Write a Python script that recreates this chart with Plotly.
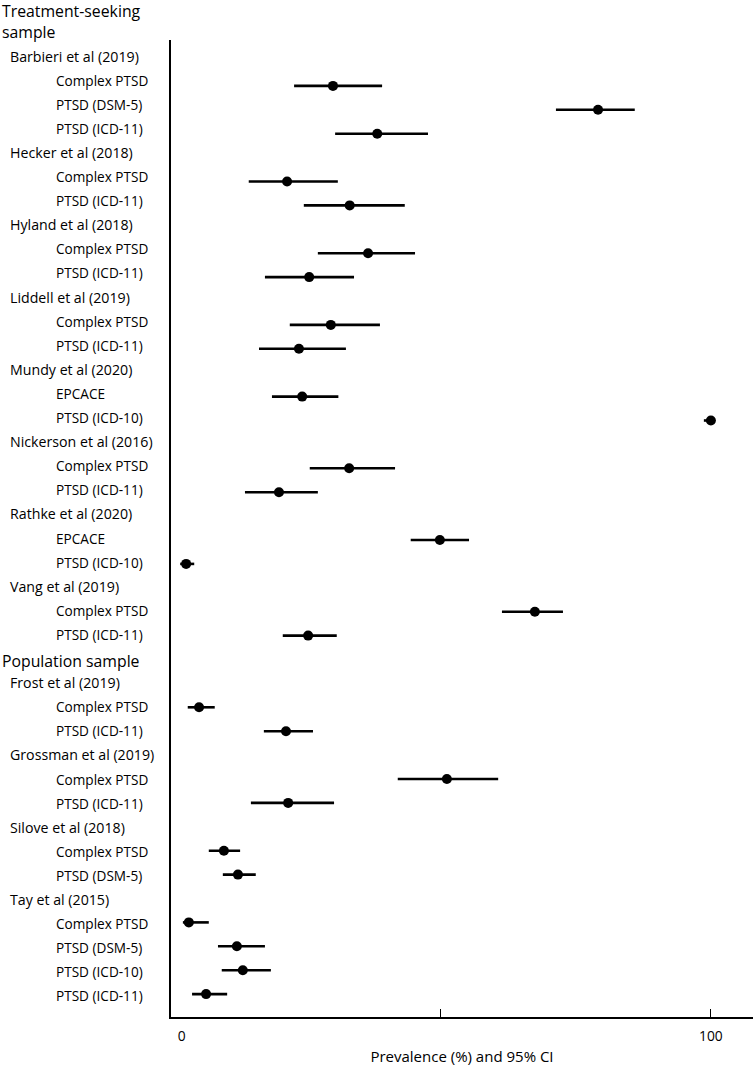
import plotly.graph_objects as go

# ---- data ----
row_labels = [
    "Barbieri et al (2019)", "Complex PTSD", "PTSD (DSM-5)", "PTSD (ICD-11)",
    "Hecker et al (2018)", "Complex PTSD", "PTSD (ICD-11)",
    "Hyland et al (2018)", "Complex PTSD", "PTSD (ICD-11)",
    "Liddell et al (2019)", "Complex PTSD", "PTSD (ICD-11)",
    "Mundy et al (2020)", "EPCACE", "PTSD (ICD-10)",
    "Nickerson et al (2016)", "Complex PTSD", "PTSD (ICD-11)",
    "Rathke et al (2020)", "EPCACE", "PTSD (ICD-10)",
    "Vang et al (2019)", "Complex PTSD", "PTSD (ICD-11)",
    "Population sample",
    "Frost et al (2019)", "Complex PTSD", "PTSD (ICD-11)",
    "Grossman et al (2019)", "Complex PTSD", "PTSD (ICD-11)",
    "Silove et al (2018)", "Complex PTSD", "PTSD (DSM-5)",
    "Tay et al (2015)", "Complex PTSD", "PTSD (DSM-5)", "PTSD (ICD-10)", "PTSD (ICD-11)",
]
# 0 = section header, 1 = study, 2 = outcome
row_levels = [
    1, 2, 2, 2,
    1, 2, 2,
    1, 2, 2,
    1, 2, 2,
    1, 2, 2,
    1, 2, 2,
    1, 2, 2,
    1, 2, 2,
    0,
    1, 2, 2,
    1, 2, 2,
    1, 2, 2,
    1, 2, 2, 2, 2,
]
prevalence = [
    None, 30.0, 79.1, 38.2,
    None, 21.5, 33.1,
    None, 36.5, 25.6,
    None, 29.6, 23.7,
    None, 24.3, 100.0,
    None, 33.0, 20.0,
    None, 49.8, 2.8,
    None, 67.4, 25.4,
    None,
    None, 5.2, 21.3,
    None, 51.1, 21.7,
    None, 9.8, 12.4,
    None, 3.3, 12.2, 13.3, 6.5,
]
ci_low = [
    None, 22.8, 71.3, 30.4,
    None, 14.4, 24.6,
    None, 27.2, 17.4,
    None, 22.0, 16.3,
    None, 18.7, 98.7,
    None, 25.7, 13.7,
    None, 44.4, 1.7,
    None, 61.3, 20.7,
    None,
    None, 3.1, 17.2,
    None, 42.0, 14.8,
    None, 7.0, 9.6,
    None, 2.2, 8.7, 9.4, 3.9,
]
ci_high = [
    None, 39.1, 85.9, 47.6,
    None, 30.9, 43.3,
    None, 45.2, 33.9,
    None, 38.7, 32.4,
    None, 31.0, 100.0,
    None, 41.5, 27.2,
    None, 55.2, 4.3,
    None, 72.6, 30.7,
    None,
    None, 8.1, 26.3,
    None, 60.6, 30.2,
    None, 12.8, 15.7,
    None, 7.0, 17.4, 18.5, 10.4,
]
top_header = "Treatment-seeking<br>sample"
x_tick_vals = [0, 50, 100]
x_tick_text = ["\u00a0\u00a0\u00a0\u00a0\u00a0\u00a00", "", "100"]
x_title = "Prevalence (%) and 95% CI"

# ---- figure ----
W, H = 753, 1071
ML, MR, MT, MB = 171, 0, 40, 54
PW = W - ML - MR

rows = list(range(len(row_labels)))
px_idx = [i for i, v in enumerate(prevalence) if v is not None]
xs = [prevalence[i] for i in px_idx]
ys = [rows[i] for i in px_idx]
err_plus = [ci_high[i] - prevalence[i] for i in px_idx]
err_minus = [prevalence[i] - ci_low[i] for i in px_idx]

FONT = "Open Sans"
TXT = "#000000"
fig = go.Figure()
fig.add_trace(go.Scatter(
    x=xs, y=ys, mode="markers",
    marker=dict(color="black", size=10),
    error_x=dict(type="data", symmetric=False, array=err_plus, arrayminus=err_minus,
                 color="black", thickness=2.6, width=0),
    hoverinfo="x+y", showlegend=False,
))

# row pixel geometry: dot rows start at 62 px with 23.9 px per row
row0_px, row_step = 62.0, 23.9
y_top = (MT - row0_px) / row_step
y_bot = (H - MB - row0_px) / row_step

indent = {0: 0, 1: 8, 2: 54}
fsize = {0: 15.8, 1: 14.2, 2: 13.6}
annotations = []
for i, (lab, lev) in enumerate(zip(row_labels, row_levels)):
    annotations.append(dict(
        text=lab, xref="paper", yref="y",
        x=(indent[lev] - ML) / PW, y=i, xanchor="left", yanchor="middle",
        showarrow=False, yshift=6 - 0.2 * i + (0 if lev else -2),
        font=dict(family=FONT, size=fsize[lev], color=TXT),
    ))
annotations.append(dict(
    text=top_header, xref="paper", yref="paper",
    x=(0 - ML) / PW, y=1 + (MT - 21) / (H - MT - MB),
    xanchor="left", yanchor="middle", align="left", showarrow=False,
    font=dict(family=FONT, size=15.8, color=TXT),
))

fig.update_layout(
    width=W, height=H,
    margin=dict(l=ML, r=MR, t=MT, b=MB, pad=0, autoexpand=False),
    paper_bgcolor="white", plot_bgcolor="white",
    font=dict(family=FONT, size=13, color=TXT),
    annotations=annotations,
    xaxis=dict(
        range=[0, 107.8], showgrid=False, zeroline=False, automargin=False,
        showline=True, linecolor="black", linewidth=1.5,
        ticks="inside", ticklen=8, tickcolor="black", tickwidth=1.2,
        tickvals=x_tick_vals, ticktext=x_tick_text,
        ticklabelstandoff=6,
        tickfont=dict(family=FONT, size=13.8, color=TXT),
        title=dict(text=x_title, standoff=7,
                   font=dict(family=FONT, size=15, color=TXT)),
    ),
    yaxis=dict(
        range=[y_bot, y_top], showgrid=False, zeroline=False, automargin=False,
        showline=True, linecolor="black", linewidth=1.5,
        showticklabels=False, ticks="",
    ),
)

fig.write_html(
    "out.html",
    config={"displayModeBar": False},
    post_script="document.body.style.margin='0';document.body.style.overflow='hidden';",
)
